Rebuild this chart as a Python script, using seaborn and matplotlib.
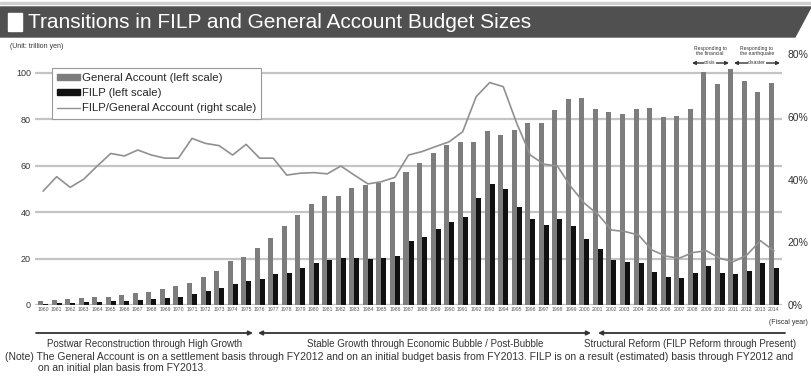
import numpy as np
import pandas as pd
import matplotlib
matplotlib.use("Agg")
import matplotlib.pyplot as plt
import seaborn as sns
from matplotlib.patches import Polygon, Rectangle, FancyArrowPatch
from matplotlib.lines import Line2D

years = list(range(1960, 2015))
general_account = [1.6, 2.2, 2.5, 2.9, 3.3, 3.6, 4.4, 5.0, 5.8, 6.8,
                   8.2, 9.6, 11.9, 14.7, 18.8, 20.6, 24.4, 29.0, 34.0, 38.7,
                   43.4, 47.0, 47.0, 50.5, 51.5, 52.6, 53.0, 57.1, 61.0, 65.2,
                   68.8, 70.0, 70.0, 74.8, 73.1, 75.5, 78.4, 78.2, 83.9, 88.5,
                   88.9, 84.3, 83.2, 82.0, 84.3, 84.9, 81.0, 81.2, 84.2, 100.4,
                   94.9, 101.5, 96.5, 91.8, 95.6]
filp = [0.6, 0.7, 0.8, 1.1, 1.2, 1.6, 1.8, 2.3, 2.6, 3.1,
        3.6, 4.9, 5.9, 7.2, 8.9, 10.5, 11.2, 13.2, 13.9, 16.1,
        17.9, 19.2, 20.4, 20.4, 19.6, 20.3, 21.2, 27.5, 29.4, 32.7,
        35.5, 38.0, 46.2, 52.0, 49.7, 42.0, 37.1, 34.5, 36.8, 34.0,
        28.4, 24.0, 19.4, 18.6, 17.9, 14.3, 12.2, 11.5, 13.6, 16.9,
        13.6, 13.3, 14.8, 17.9, 15.8]
ratio = [36.3, 40.9, 37.5, 40.1, 44.3, 48.3, 47.5, 49.4, 47.8, 46.8,
         46.8, 53.1, 51.5, 50.8, 47.8, 51.2, 46.8, 46.8, 41.4, 42.0,
         42.2, 41.8, 44.3, 41.4, 38.6, 39.3, 40.7, 47.8, 48.9, 50.5,
         52.0, 55.2, 66.4, 70.9, 69.6, 57.9, 47.8, 44.9, 44.3, 37.7,
         32.4, 28.9, 23.9, 23.4, 22.3, 17.5, 15.6, 14.9, 16.7, 17.3,
         14.9, 13.8, 15.9, 20.5, 17.3]

left_ticks = [0, 20, 40, 60, 80, 100]
right_ticks = [0, 20, 40, 60, 80]
series_names = ["General Account (left scale)", "FILP (left scale)"]
line_name = "FILP/General Account (right scale)"
periods = ["Postwar Reconstruction through High Growth",
           "Stable Growth through Economic Bubble / Post-Bubble",
           "Structural Reform (FILP Reform through Present)"]
title = "Transitions in FILP and General Account Budget Sizes"
note1 = ("(Note) The General Account is on a settlement basis through FY2012 and on an initial budget basis "
         "from FY2013. FILP is on a result (estimated) basis through FY2012 and")
note2 = "on an initial plan basis from FY2013."

sns.set_theme(style="white")
NARROW = ["Liberation Sans Narrow", "Liberation Sans", "DejaVu Sans"]
plt.rcParams["font.family"] = NARROW

W, H = 811, 377
fig = plt.figure(figsize=(W / 100, H / 100), dpi=100)
fig.patch.set_facecolor("white")

def F(x, y):
    return (x / W, 1 - y / H)

ax_l, ax_r, ax_t, ax_b = 35, 782, 54, 305
ax = fig.add_axes([ax_l / W, 1 - ax_b / H, (ax_r - ax_l) / W, (ax_b - ax_t) / H])

labels = [str(y) for y in years]
df = pd.DataFrame({"year": labels * 2,
                   "series": [series_names[0]] * len(years) + [series_names[1]] * len(years),
                   "value": general_account + filp})
pal = {series_names[0]: "#7d7d7d", series_names[1]: "#111111"}
sns.barplot(data=df, x="year", y="value", hue="series", palette=pal, width=0.74,
            ax=ax, legend=False, saturation=1, edgecolor="none")
ax.set_ylim(0, 108)
ax.set_xlim(-0.6, len(years) - 0.4)
ax.set_yticks(left_ticks)
ax.set_yticklabels([str(t) for t in left_ticks], fontsize=6.5, color="#333")
ax.set_axisbelow(True)
ax.yaxis.grid(True, color="#c4c4c4", lw=1.6)
ax.xaxis.grid(False)
ax.tick_params(axis="x", labelsize=3.7, pad=1.5, length=0, colors="#555")
ax.tick_params(axis="y", length=0, pad=3)
ax.set_xlabel("")
ax.set_ylabel("")
for s in ax.spines.values():
    s.set_visible(False)
ax.axhline(0, color="#999", lw=0.8)

ax2 = ax.twinx()
sns.lineplot(x=np.arange(len(years)), y=ratio, ax=ax2, color="#909090", lw=1.2)
ax2.set_ylim(0, 80)
ax2.set_yticks(right_ticks)
ax2.set_yticklabels([f"{t}%" for t in right_ticks], fontsize=7.5, color="#333")
ax2.tick_params(axis="y", length=0, pad=4)
ax2.grid(False)
for s in ax2.spines.values():
    s.set_visible(False)

handles = [Rectangle((0, 0), 1, 1, color=pal[series_names[0]]),
           Rectangle((0, 0), 1, 1, color=pal[series_names[1]]),
           Line2D([], [], color="#909090", lw=1.0)]
leg = ax.legend(handles, series_names + [line_name], loc="upper left",
                bbox_to_anchor=((52 - ax_l) / (ax_r - ax_l), 1 - (68 - ax_t) / (ax_b - ax_t)),
                fontsize=8.2, frameon=True, fancybox=False, framealpha=1,
                edgecolor="#999", handlelength=2.0, handleheight=0.45,
                handletextpad=0.15, labelspacing=0.45, borderpad=0.45, borderaxespad=0)
leg.get_frame().set_linewidth(0.8)
leg.set_zorder(10)

# title band
fig.add_artist(Rectangle(F(0, 4), 1, 1.5 / H, transform=fig.transFigure, color="#cfcfcf"))
fig.add_artist(Polygon([F(0, 7), F(811, 7), F(795, 37), F(0, 37)], closed=True,
                       transform=fig.transFigure, color="#505050"))
fig.add_artist(Rectangle(F(8, 31), 14 / W, 18 / H, transform=fig.transFigure, color="white"))
fig.text(*F(28, 22), title, color="white", fontsize=15, va="center", ha="left")

fig.text(*F(10, 47), "(Unit: trillion yen)", fontsize=5, va="center", ha="left", color="#333")
fig.text(*F(808, 322), "(Fiscal year)", fontsize=5, va="center", ha="right", color="#333")

# period arrows
def arrow(x0, x1, y, style, lw=1.3, ms=6):
    fig.add_artist(FancyArrowPatch(F(x0, y), F(x1, y), transform=fig.transFigure,
                                   arrowstyle=style, mutation_scale=ms, lw=lw,
                                   color="#333", shrinkA=0, shrinkB=0))

arrow(36, 253, 333, "-|>")
arrow(258, 591, 333, "<|-|>")
arrow(598, 785, 333, "<|-")
for xc, txt in zip([145, 425, 690], periods):
    fig.text(*F(xc, 344), txt, fontsize=7, ha="center", va="center", color="#333")

# notes
fig.text(*F(5, 357), note1, fontsize=7.5, ha="left", va="center", color="#333")
fig.text(*F(38, 368), note2, fontsize=7.5, ha="left", va="center", color="#333")

# top-right annotations
for xc, x0, x1, l1, l2 in [(710, 692, 729, "Responding to\nthe financial", "crisis"),
                           (757, 734, 780, "Responding to\nthe earthquake", "disaster")]:
    arrow(x0, x1, 63, "<|-|>", lw=1.0, ms=5)
    fig.text(*F(xc, 51), l1, fontsize=3.6, ha="center", va="center", color="#333",
             linespacing=1.0)
    fig.text(*F(xc, 63), l2, fontsize=3.6, ha="center", va="center", color="#333",
             bbox=dict(facecolor="white", edgecolor="none", pad=0.3))

fig.savefig("out.png", dpi=100, facecolor="white")
